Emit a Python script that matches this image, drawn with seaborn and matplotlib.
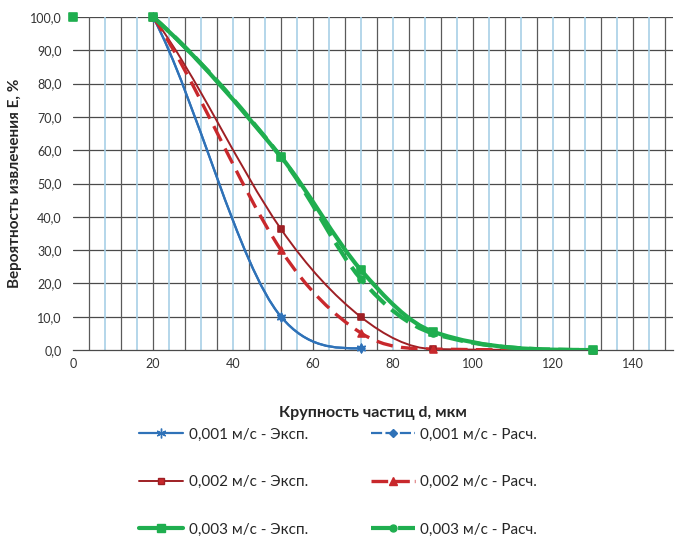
import numpy as np
import seaborn as sns
import matplotlib.pyplot as plt
from matplotlib.path import Path
from matplotlib.patches import PathPatch
from matplotlib.lines import Line2D

# particle size, mkm
x_001 = [20, 52, 72]
x_002 = [20, 52, 72, 90, 130]
x_003_exp = [0, 20, 52, 72, 90, 130]
x_003_calc = [20, 52, 72, 90, 130]

# extraction probability, %
e_001_exp = [100, 10, 0.5]
e_001_calc = [100, 10, 0.5]
e_002_exp = [100, 36.3, 9.9, 0.3, 0]
e_002_calc = [100, 30.0, 5.1, 0.3, 0]
e_003_exp = [100, 100, 58.0, 24.0, 5.5, 0]
e_003_calc = [100, 58.0, 21.3, 5.0, 0]

labels = ['0,001 м/с - Эксп.', '0,002 м/с - Эксп.', '0,003 м/с - Эксп.',
          '0,001 м/с - Расч.', '0,002 м/с - Расч.', '0,003 м/с - Расч.']

sns.set_style('white')
plt.rcParams['font.family'] = ['Lato', 'DejaVu Sans']

fig = plt.figure(figsize=(6.78, 5.43), dpi=100)
ax = fig.add_axes([0.1077, 0.3554, 0.8849, 0.6133])


def smooth(ax, xs, ys, **kw):
    # smoothed line like Excel's: cubic Bezier segments through the points,
    # tangents limited so the curve does not overshoot
    x = np.asarray(xs, float)
    y = np.asarray(ys, float)
    n = len(x)
    h = np.diff(x)
    d = np.diff(y) / h
    m = np.zeros(n)
    for i in range(1, n - 1):
        m[i] = (y[i + 1] - y[i - 1]) / (x[i + 1] - x[i - 1])
    m[0] = 0.8 * d[0]
    m[-1] = (3 * d[-1] - m[-2]) / 2
    if np.sign(m[-1]) != np.sign(d[-1]):
        m[-1] = 0
    for i in range(n - 1):
        if d[i] == 0:
            m[i] = m[i + 1] = 0
            continue
        a, b = m[i] / d[i], m[i + 1] / d[i]
        if a < 0:
            m[i] = 0
            a = 0
        if b < 0:
            m[i + 1] = 0
            b = 0
        r = a * a + b * b
        if r > 9:
            t = 3 / np.sqrt(r)
            m[i] = t * a * d[i]
            m[i + 1] = t * b * d[i]
    verts = [(x[0], y[0])]
    codes = [Path.MOVETO]
    for i in range(n - 1):
        verts += [(x[i] + h[i] / 3, y[i] + m[i] * h[i] / 3),
                  (x[i + 1] - h[i] / 3, y[i + 1] - m[i + 1] * h[i] / 3),
                  (x[i + 1], y[i + 1])]
        codes += [Path.CURVE4] * 3
    ax.add_patch(PathPatch(Path(verts, codes), fill=False, **kw))


blue = '#2f72b8'
dred = '#9e1f24'
red = '#c8282c'
green = '#1fae4f'

series = [
    (x_001, e_001_calc, blue, '-', 1.6, 'D', 3.5),
    (x_001, e_001_exp, blue, '-', 1.6, (6, 2, 0), 6),
    (x_002, e_002_exp, dred, '-', 1.4, 's', 4.5),
    (x_002, e_002_calc, red, (0, (5, 2.5)), 2.4, '^', 5),
    (x_003_calc, e_003_calc, green, (0, (5, 2)), 3.0, 'o', 5),
    (x_003_exp, e_003_exp, green, '-', 3.0, 's', 6),
]
for xs, ys, c, ls, lw, m, ms in series:
    k = 1 if xs[0] == 0 else 0   # the point at d=0 is only a marker
    smooth(ax, xs[k:], ys[k:], edgecolor=c, linestyle=ls, linewidth=lw,
           zorder=3, capstyle='butt')
    sns.scatterplot(x=xs, y=ys, marker=m, s=ms ** 2, color=c,
                    edgecolor=c, linewidth=1.2, ax=ax, zorder=4,
                    clip_on=False)

ax.set_xlim(0, 150)
ax.set_ylim(0, 100)
ax.set_xticks(np.arange(0, 141, 20))
ax.set_yticks(np.arange(0, 101, 10))
ax.set_yticklabels([f'{v:.1f}'.replace('.', ',') for v in np.arange(0, 101, 10)])
ax.tick_params(axis='both', labelsize=9, colors='#333333', length=0, pad=6)
ax.tick_params(axis='y', length=5, color='#555555', width=0.8, pad=3)

# grid
for v in np.arange(10, 101, 10):
    ax.axhline(v, color='#4a4a4a', lw=0.9, zorder=1)
for k, v in enumerate(np.arange(4, 151, 4)):
    col = '#5a5a5a' if k % 2 == 0 else '#a8d0e6'
    ax.axvline(v, color=col, lw=0.9 if k % 2 == 0 else 1.2, zorder=1)

for s in ['left', 'right', 'top']:
    ax.spines[s].set_visible(False)
ax.spines['bottom'].set_color('#4a4a4a')
ax.spines['bottom'].set_linewidth(0.9)

ax.set_xlabel('Крупность частиц d, мкм', fontsize=11.5, fontweight='bold',
              labelpad=26)
ax.set_ylabel('Вероятность извлечения E, %', fontsize=11, fontweight='bold',
              labelpad=6)

handles = [
    Line2D([], [], color=blue, lw=1.6, marker=(6, 2, 0), ms=7),
    Line2D([], [], color=dred, lw=1.4, marker='s', ms=5, mfc=red),
    Line2D([], [], color=green, lw=3.0, marker='s', ms=6),
    Line2D([], [], color=blue, lw=1.6, ls=(0, (5, 1.5)), marker='D', ms=4),
    Line2D([], [], color=red, lw=2.4, ls=(0, (5, 1.5)), marker='^', ms=6),
    Line2D([], [], color=green, lw=3.0, ls=(0, (5, 1.5)), marker='o', ms=5),
]
fig.legend(handles, labels, ncol=2, loc='upper left',
           bbox_to_anchor=(0.185, 0.238), frameon=False, fontsize=11,
           handlelength=2.9, handletextpad=0.35, columnspacing=4.1,
           labelspacing=2.2)

fig.savefig('out.png', dpi=100)
